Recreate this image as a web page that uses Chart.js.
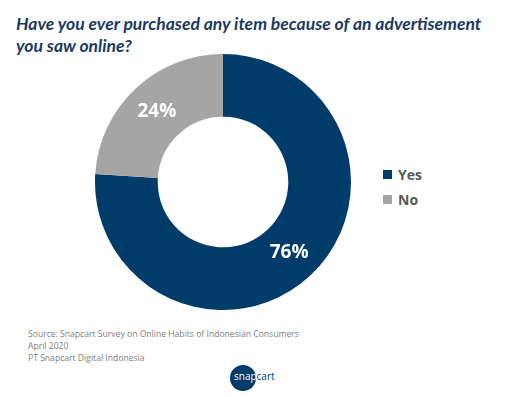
<!DOCTYPE html>
<html>
<head>
<meta charset="utf-8">
<script src="https://cdn.jsdelivr.net/npm/chart.js@4"></script>
<style>
  html, body { margin: 0; padding: 0; background: #fff; }
  body { width: 512px; height: 397px; position: relative; overflow: hidden; font-family: 'Open Sans', sans-serif; }
  #titulo { position: absolute; left: 16px; top: 13px; width: 496px; color: #1B3A63; font-family: Lato, sans-serif; font-size: 17.5px; font-weight: 700; font-style: italic; line-height: 22px; white-space: nowrap; }
  #contenedor { position: absolute; left: 95px; top: 54px; width: 256px; height: 256px; }
  #leyenda { position: absolute; left: 383px; top: 162px; }
  .item { display: flex; align-items: center; height: 25px; color: #595959; font-size: 14px; font-weight: 700; }
  .cuadro { width: 9px; height: 9px; margin-right: 6px; }
  #fuente { position: absolute; left: 28px; top: 328px; color: #7f7f7f; font-size: 8.6px; line-height: 12px; }
  #logo { position: absolute; left: 230px; top: 365px; width: 26px; height: 26px; border-radius: 50%; background: #003C69; }
  #logoTexto { position: absolute; left: 234px; top: 369px; font-size: 10px; color: #fff; }
  #logoTexto span { color: #003C69; }
</style>
</head>
<body>
<div id="titulo">Have you ever purchased any item because of an advertisement<br>you saw online?</div>
<div id="contenedor"><canvas id="grafico"></canvas></div>
<div id="leyenda"></div>
<div id="fuente">Source: Snapcart Survey on Online Habits of Indonesian Consumers<br>April 2020<br>PT Snapcart Digital Indonesia</div>
<div id="logo"></div>
<div id="logoTexto">snap<span>cart</span></div>
<script>
const respuestas = ['Yes', 'No']
const porcentajes = [76, 24]
const colores = ['#003C69', '#A5A5A5']

// leyenda a la derecha, armada desde los mismos arrays
const $leyenda = document.querySelector('#leyenda')
respuestas.forEach((r, i) => {
    const item = document.createElement('div')
    item.className = 'item'
    item.innerHTML = `<div class="cuadro" style="background:${colores[i]}"></div>${r}`
    $leyenda.appendChild(item)
})

// etiquetas de porcentaje dentro de cada segmento
const etiquetas = {
    id: 'etiquetas',
    afterDatasetsDraw(chart) {
        const ctx = chart.ctx
        const meta = chart.getDatasetMeta(0)
        ctx.save()
        ctx.fillStyle = '#ffffff'
        ctx.font = "bold 19px 'Open Sans', sans-serif"
        ctx.textAlign = 'center'
        ctx.textBaseline = 'middle'
        meta.data.forEach((arc, i) => {
            const pos = arc.tooltipPosition()
            ctx.fillText(porcentajes[i] + '%', pos.x, pos.y)
        })
        ctx.restore()
    }
}

new Chart(document.getElementById('grafico'), {
    type: 'doughnut',
    data: {
        labels: respuestas,
        datasets: [{
            data: porcentajes,
            backgroundColor: colores,
            borderWidth: 0
        }]
    },
    options: {
        responsive: true,
        maintainAspectRatio: false,
        animation: false,
        cutout: '51%',
        plugins: {
            legend: { display: false },
            tooltip: { enabled: false }
        }
    },
    plugins: [etiquetas]
})
</script>
</body>
</html>
